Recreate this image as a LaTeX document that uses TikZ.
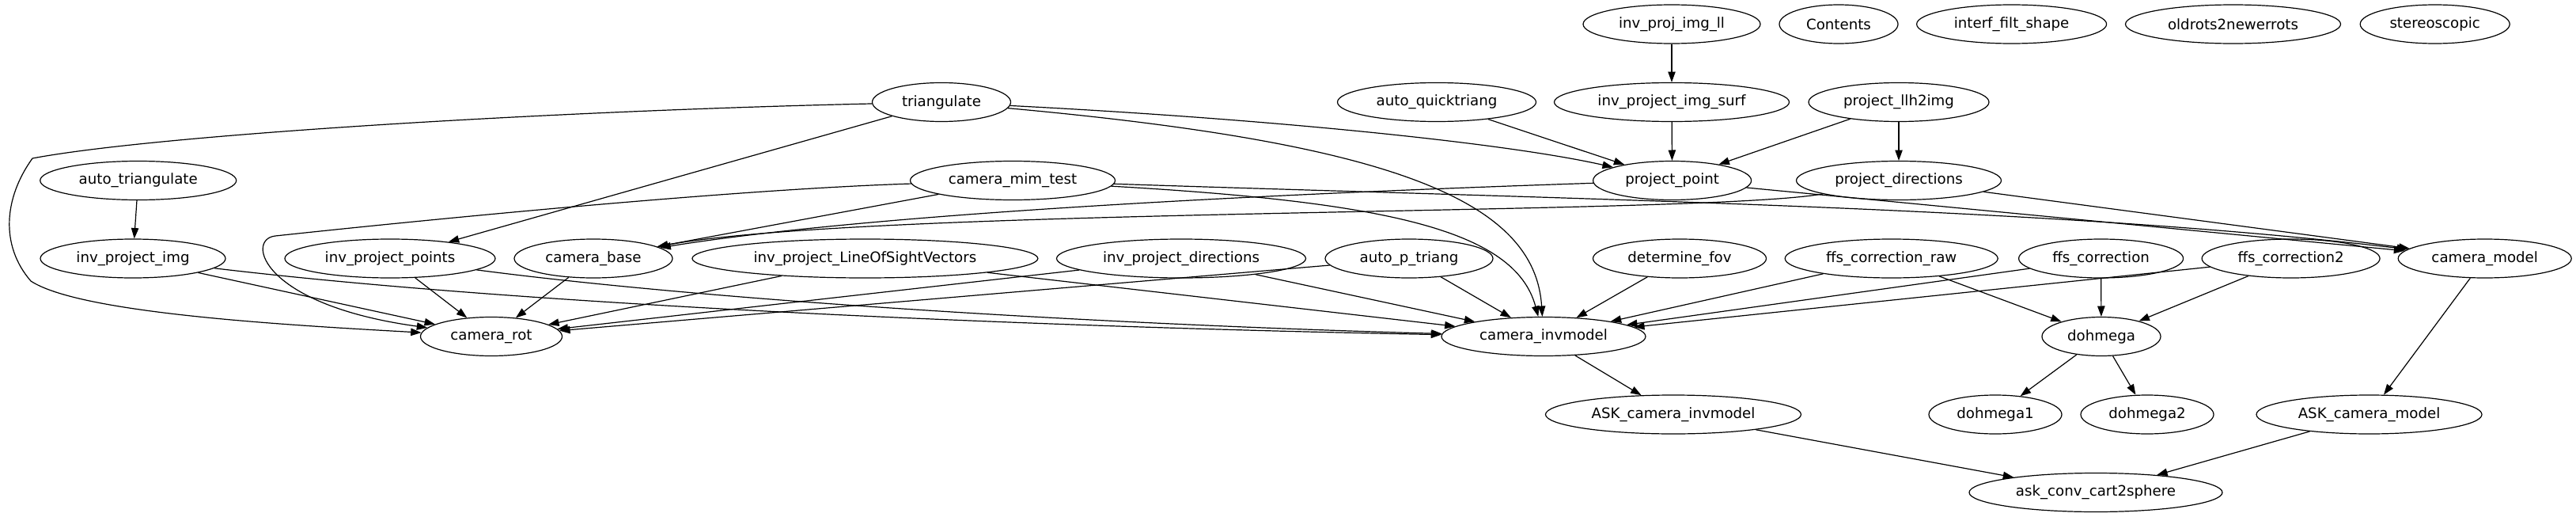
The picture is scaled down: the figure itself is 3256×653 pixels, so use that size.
\documentclass[tikz,border=0pt]{standalone}
\usepackage{fontspec}
\setmainfont{DejaVu Sans}
\usetikzlibrary{shapes.geometric,arrows.meta}
\begin{document}
\begin{tikzpicture}[x=0.5pt,y=-0.5pt,
  nd/.style={ellipse,draw,line width=0.6pt,inner sep=0pt,minimum height=24.5pt,font=\fontsize{9.1pt}{11pt}\selectfont},
  edge/.style={line width=0.6pt,-{Triangle[length=6.7pt,width=4.7pt]}}]
\useasboundingbox (0,0) rectangle (3256,653);
% row 0
\node[nd,minimum width=112pt] (iil) at (2113,30.5) {inv\_proj\_img\_ll};
\node[nd,minimum width=75pt] (contents) at (2324,30.5) {Contents};
\node[nd,minimum width=120pt] (ifs) at (2542.6,30.5) {interf\_filt\_shape};
\node[nd,minimum width=136pt] (old) at (2822.5,30.5) {oldrots2newerrots};
\node[nd,minimum width=94.5pt] (stereo) at (3077.7,30.5) {stereoscopic};
% row 1
\node[nd,minimum width=87.5pt] (tri) at (1190,129) {triangulate};
\node[nd,minimum width=125.5pt] (aqt) at (1816,129) {auto\_quicktriang};
\node[nd,minimum width=148.5pt] (ipis) at (2113,129) {inv\_project\_img\_surf};
\node[nd,minimum width=114pt] (llh) at (2400,129) {project\_llh2img};
% row 2
\node[nd,minimum width=124pt] (atri) at (174.7,228) {auto\_triangulate};
\node[nd,minimum width=129.5pt] (cmt) at (1280,228) {camera\_mim\_test};
\node[nd,minimum width=100pt] (pp) at (2113.6,228) {project\_point};
\node[nd,minimum width=129.5pt] (pd) at (2400,228) {project\_directions};
% row 3
\node[nd,minimum width=117pt] (ipi) at (168,326.5) {inv\_project\_img};
\node[nd,minimum width=133pt] (ipp) at (493,326.5) {inv\_project\_points};
\node[nd,minimum width=100pt] (cb) at (750,326.5) {camera\_base};
\node[nd,minimum width=218.5pt] (ilos) at (1093.4,326.5) {inv\_project\_LineOfSightVectors};
\node[nd,minimum width=157.5pt] (ipd) at (1493,326.5) {inv\_project\_directions};
\node[nd,minimum width=106pt] (apt) at (1781,326.5) {auto\_p\_triang};
\node[nd,minimum width=109.5pt] (dfov) at (2123,326.5) {determine\_fov};
\node[nd,minimum width=134.5pt] (fcr) at (2390.7,326.5) {ffs\_correction\_raw};
\node[nd,minimum width=104pt] (fc) at (2655.6,326.5) {ffs\_correction};
\node[nd,minimum width=112.5pt] (fc2) at (2895.6,326.5) {ffs\_correction2};
\node[nd,minimum width=109.5pt] (cm) at (3140.7,326.5) {camera\_model};
% row 4
\node[nd,minimum width=89.5pt] (crot) at (621,425) {camera\_rot};
\node[nd,minimum width=129pt] (cinv) at (1951,425) {camera\_invmodel};
\node[nd,minimum width=75pt] (doh) at (2656,425) {dohmega};
% row 5
\node[nd,minimum width=161.5pt] (aci) at (2115,523.5) {ASK\_camera\_invmodel};
\node[nd,minimum width=84pt] (doh1) at (2522,523.5) {dohmega1};
\node[nd,minimum width=84pt] (doh2) at (2714,523.5) {dohmega2};
\node[nd,minimum width=142.5pt] (acm) at (2994.5,523.5) {ASK\_camera\_model};
% row 6
\node[nd,minimum width=160pt] (acc) at (2649,622) {ask\_conv\_cart2sphere};

% edges
\draw[edge] (iil) -- (ipis);
\draw[edge] (ipis) -- (pp);
\draw[edge] (aqt) -- (pp);
\draw[edge] (llh) -- (pp);
\draw[edge] (llh) -- (pd);
\draw[edge] (tri) .. controls (1600,150) and (1900,180) .. (pp);
\draw[edge] (tri) .. controls (1750,180) and (1940,250) .. (cinv);
\draw[edge] (tri) -- (ipp);
\draw[edge] (tri) .. controls (700,140) and (200,170) .. (41,200)
  .. controls (5,250) and (0,310) .. (39,355)
  .. controls (100,395) and (350,410) .. (crot);
\draw[edge] (atri) -- (ipi);
\draw[edge] (ipi) -- (crot);
\draw[edge] (ipi) .. controls (700,390) and (1400,415) .. (cinv);
\draw[edge] (ipp) -- (crot);
\draw[edge] (ipp) .. controls (900,380) and (1400,410) .. (cinv);
\draw[edge] (cb) -- (crot);
\draw[edge] (cmt) -- (cb);
\draw[edge] (cmt) .. controls (900,240) and (450,287) .. (348,298)
  .. controls (310,302) and (330,385) .. (crot);
\draw[edge] (cmt) .. controls (1750,255) and (1915,290) .. (cinv);
\draw[edge] (cmt) .. controls (2000,252) and (2600,262) .. (cm);
\draw[edge] (pp) .. controls (1600,245) and (1100,270) .. (cb);
\draw[edge] (pd) .. controls (2150,272) and (1100,262) .. (cb);
\draw[edge] (pp) -- (cm);
\draw[edge] (pd) -- (cm);
\draw[edge] (ilos) -- (crot);
\draw[edge] (ilos) -- (cinv);
\draw[edge] (ipd) -- (crot);
\draw[edge] (ipd) -- (cinv);
\draw[edge] (apt) -- (crot);
\draw[edge] (apt) -- (cinv);
\draw[edge] (dfov) -- (cinv);
\draw[edge] (fcr) -- (cinv);
\draw[edge] (fcr) -- (doh);
\draw[edge] (fc) -- (cinv);
\draw[edge] (fc) -- (doh);
\draw[edge] (fc2) -- (cinv);
\draw[edge] (fc2) -- (doh);
\draw[edge] (cinv) -- (aci);
\draw[edge] (cm) -- (acm);
\draw[edge] (aci) -- (acc);
\draw[edge] (acm) -- (acc);
\draw[edge] (doh) -- (doh1);
\draw[edge] (doh) -- (doh2);
\end{tikzpicture}
\end{document}
